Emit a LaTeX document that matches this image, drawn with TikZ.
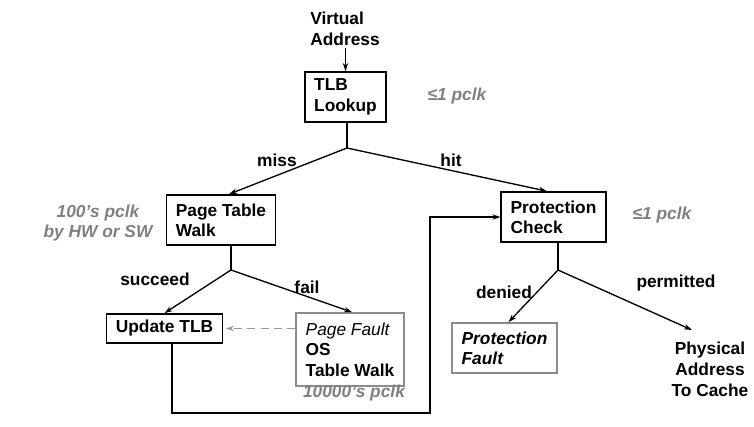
\documentclass[tikz,border=0pt]{standalone}
\usepackage{fontspec}
\setmainfont{Liberation Sans}
\usetikzlibrary{positioning, arrows.meta, calc}

\begin{document}
\begin{tikzpicture}[
        x=0.75pt, y=-0.75pt,
        stagebox/.style={rectangle, draw, line width=1.3pt, inner xsep=7pt, inner ysep=2pt, align=left, font=\fontsize{13}{15.3}\selectfont\bfseries},
        faultbox/.style={stagebox, draw=gray!90},
        lbl/.style={inner sep=1pt, font=\fontsize{13}{15.8}\selectfont\bfseries},
        cost/.style={inner sep=1pt, text=gray, font=\fontsize{13}{15}\selectfont\bfseries\itshape},
        link/.style={line width=1pt},
        arr/.style={link, -{Stealth[length=6pt,width=4pt]}}
    ]
    \useasboundingbox (0,0) rectangle (754,426);

    \node[lbl, align=left] (va) at (345,29) {Virtual\\Address};
    \node[stagebox, minimum height=37.5pt] (tlb) at (345.5,97) {TLB\\Lookup};
    \node[stagebox, minimum height=37.5pt] (ptw) at (221,220) {Page Table\\Walk};
    \node[stagebox, minimum height=21.75pt] (upd) at (164.5,328.5) {Update TLB};
    \node[faultbox, minimum height=54.75pt] (pf) at (350,349.5) {{\mdseries\itshape Page Fault}\\OS\\Table Walk};
    \node[stagebox, minimum height=37.5pt] (pc) at (553.5,217) {Protection\\Check};
    \node[faultbox, minimum height=37.5pt, font=\fontsize{13}{15.3}\selectfont\bfseries\itshape] (pft) at (504.5,348) {Protection\\Fault};
    \node[lbl, align=center] (pa) at (710,369) {Physical\\Address\\To Cache};

    \foreach \name/\x/\y/\txt in {miss/277/160/miss, hit/451/160/hit, succeed/155/279/succeed, fail/307/287/fail, denied/504/292/denied, permitted/676/283/permitted} {
        \node[lbl] (\name) at (\x,\y) {\txt};
    }

    \node[cost] (tlbcost) at (457,96) {≤1 pclk};
    \node[cost, align=center] (ptwcost) at (98,223) {100’s pclk\\by HW or SW};
    \node[cost] (pfcost) at (354,393) {10000’s pclk};
    \node[cost] (pccost) at (662,215) {≤1 pclk};

    \coordinate (j1) at (347,148);
    \coordinate (j2) at (231,270);
    \coordinate (j3) at (558,270);
    \coordinate (loop) at (430,413);
    \coordinate (paTip) at (692,330);

    \draw[arr] (va.south -| tlb.north) -- (tlb.north);
    \draw[link] (tlb.south -| j1) -- (j1);
    \draw[arr] (j1) -- ([xshift=6pt]ptw.north);
    \draw[arr] (j1) -- ([xshift=-5pt]pc.north);
    \draw[link] (ptw.south -| j2) -- (j2);
    \draw[arr] (j2) -- (upd.north);
    \draw[arr] (j2) -- ([xshift=1.5pt]pf.north);
    \draw[arr, gray!80, dash pattern=on 6pt off 4pt] (pf.west |- upd) -- ([xshift=2pt]upd.east);
    \draw[arr] ([xshift=5.5pt]upd.south) |- (loop) |- (pc.west);
    \draw[link] (pc.south -| j3) -- (j3);
    \draw[arr] (j3) -- ([xshift=3pt]pft.north);
    \draw[arr] (j3) -- (paTip);
\end{tikzpicture}
\end{document}
